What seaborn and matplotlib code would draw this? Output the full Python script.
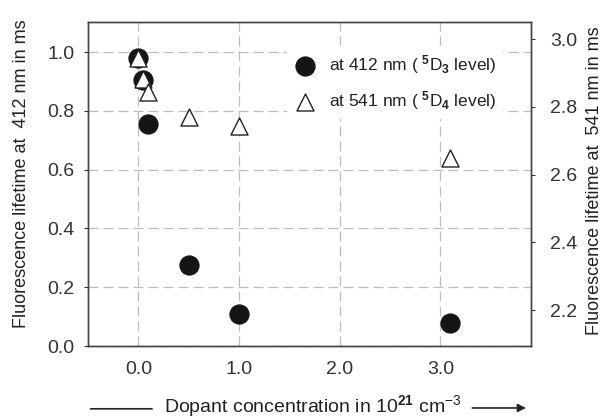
import matplotlib
matplotlib.use("Agg")
import matplotlib.pyplot as plt
import seaborn as sns
import numpy as np

# dopant concentration (10^21 cm^-3) and lifetimes (ms)
conc = [0.0, 0.05, 0.1, 0.5, 1.0, 3.1]
life_412 = [0.98, 0.905, 0.755, 0.275, 0.11, 0.077]
life_541 = [2.944, 2.882, 2.843, 2.769, 2.742, 2.649]

left_ticks = [0.0, 0.2, 0.4, 0.6, 0.8, 1.0]
right_ticks = [2.2, 2.4, 2.6, 2.8, 3.0]
x_ticks = [0.0, 1.0, 2.0, 3.0]

sns.set_style("white")
plt.rcParams["font.family"] = ["Liberation Sans", "DejaVu Sans"]
plt.rcParams["mathtext.fontset"] = "custom"
plt.rcParams["mathtext.rm"] = "Liberation Sans"
plt.rcParams["mathtext.bf"] = "Liberation Sans:bold"
plt.rcParams["mathtext.it"] = "Liberation Sans:italic"
plt.rcParams["text.color"] = "#222222"
plt.rcParams["axes.labelcolor"] = "#222222"
plt.rcParams["xtick.color"] = "#333333"
plt.rcParams["ytick.color"] = "#333333"

fig = plt.figure(figsize=(6.05, 4.18), dpi=100)
ax = fig.add_axes([0.1455, 0.1722, 0.732, 0.775])
ax2 = ax.twinx()

sns.scatterplot(x=conc, y=life_412, ax=ax, marker="o", s=190, color="#151515",
                edgecolor="#151515", linewidth=0.8, zorder=3,
                label=r"at 412 nm ( $^{\mathbf{5}}$D$_{\mathbf{3}}$ level)", legend=False)
sns.scatterplot(x=conc, y=life_541, ax=ax2, marker="^", s=150, color="white",
                edgecolor="#222222", linewidth=1.0, zorder=3,
                label=r"at 541 nm ( $^{\mathbf{5}}$D$_{\mathbf{4}}$ level)", legend=False)

ax.set_xlim(-0.5, 3.9)
ax.set_ylim(0.0, 1.102)
ax2.set_ylim(2.094, 3.05)

ax.set_xticks(x_ticks)
ax.set_xticklabels([f"{v:.1f}" for v in x_ticks])
ax.set_yticks(left_ticks)
ax.set_yticklabels([f"{v:.1f}" for v in left_ticks])
ax2.set_yticks(right_ticks)
ax2.set_yticklabels([f"{v:.1f}" for v in right_ticks])

for a in (ax, ax2):
    a.tick_params(direction="out", length=3, width=0.8, labelsize=14, pad=4)
    for sp in a.spines.values():
        sp.set_color("#444444")
        sp.set_linewidth(1.0)
ax.tick_params(axis="x", pad=8)
ax.tick_params(axis="y", pad=7)
ax2.tick_params(axis="y", pad=11)

ax.grid(True, color="#bdbdbd", linestyle=(0, (8, 4)), linewidth=0.9)
ax.set_axisbelow(True)

ax.set_ylabel("Fluorescence lifetime at  412 nm in ms", fontsize=13)
ax.yaxis.set_label_coords(-0.131, 0.531)
ax2.set_ylabel("Fluorescence lifetime at  541 nm in ms", fontsize=13, rotation=90)
ax2.yaxis.set_label_coords(1.124, 0.509)

ax.set_xlabel(r"Dopant concentration in 10$^{\mathbf{21}}$ cm$^{-3}$", fontsize=14)
ax.xaxis.set_label_coords(0.508, -0.146)

# arrows around the x label
ax.annotate("", xy=(0.256, 0.022), xytext=(0.145, 0.022), xycoords="figure fraction",
            arrowprops=dict(arrowstyle="-", color="#222222", lw=1.2))
ax.annotate("", xy=(0.874, 0.024), xytext=(0.776, 0.024), xycoords="figure fraction",
            arrowprops=dict(arrowstyle="-|>", color="#222222", lw=1.2,
                            mutation_scale=12))

h1, l1 = ax.get_legend_handles_labels()
h2, l2 = ax2.get_legend_handles_labels()
leg = ax2.legend(h1 + h2, l1 + l2, loc="upper left", bbox_to_anchor=(0.45, 0.926),
                 frameon=True, fontsize=12.5, handlelength=1.2, handletextpad=0.8,
                 labelspacing=0.75, borderaxespad=0)
leg.get_frame().set_facecolor("white")
leg.get_frame().set_edgecolor("none")
leg.get_frame().set_alpha(1)

plt.savefig("out.png", dpi=100)
